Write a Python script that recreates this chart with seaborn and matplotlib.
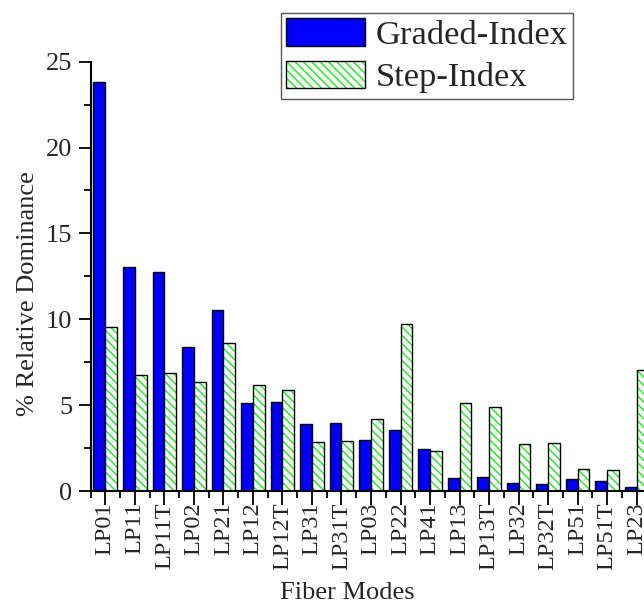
import numpy as np
import pandas as pd
import matplotlib
matplotlib.use("Agg")
import matplotlib.pyplot as plt
from matplotlib.patches import Patch
from matplotlib.ticker import MultipleLocator
from matplotlib.colors import to_rgba
import seaborn as sns

modes = ["LP01", "LP11", "LP11T", "LP02", "LP21", "LP12", "LP12T", "LP31", "LP31T",
         "LP03", "LP22", "LP41", "LP13", "LP13T", "LP32", "LP32T", "LP51", "LP51T", "LP23"]
graded = [23.8, 13.04, 12.75, 8.37, 10.56, 5.13, 5.21, 3.9, 3.97,
          2.97, 3.57, 2.42, 0.75, 0.82, 0.45, 0.41, 0.68, 0.58, 0.25]
step = [9.55, 6.78, 6.88, 6.32, 8.59, 6.2, 5.87, 2.87, 2.93,
        4.19, 9.71, 2.33, 5.14, 4.9, 2.75, 2.81, 1.3, 1.22, 7.03]
series = ["Graded-Index", "Step-Index"]

df = pd.DataFrame({
    "mode": modes * 2,
    "value": graded + step,
    "type": [series[0]] * len(modes) + [series[1]] * len(modes),
})

sns.set_style("ticks")
plt.rcParams["font.family"] = ["Liberation Serif", "DejaVu Serif"]
plt.rcParams["hatch.linewidth"] = 1.0

HATCH = "\\\\\\\\"

fig = plt.figure(figsize=(6.44, 6.09), dpi=100)
W, H = 644, 609
left_px, right_px, top_px, bottom_px = 90.5, 651.5, 61.7, 491.0
ax = fig.add_axes([left_px / W, 1 - bottom_px / H, (right_px - left_px) / W, (bottom_px - top_px) / H])

sns.barplot(data=df, x="mode", y="value", hue="type", order=modes, hue_order=series,
            palette=["#0000ff", "#ffffff"], width=0.8, dodge=True, saturation=1,
            edgecolor="black", linewidth=1.0, legend=False, ax=ax)

green = to_rgba("#00ff00")
for p in ax.containers[1]:
    p.set_facecolor("white")
    p.set_edgecolor("black")
    p.set_hatch(HATCH)
    p._hatch_color = green
for p in ax.containers[0]:
    p.set_facecolor("#0000ff")
    p.set_edgecolor("black")

ax.set_xlim(-0.5, 18.5)
ax.set_ylim(0, 25)
ax.yaxis.set_major_locator(MultipleLocator(5))
ax.yaxis.set_minor_locator(MultipleLocator(2.5))
ax.xaxis.set_minor_locator(MultipleLocator(1, offset=0.5))
ax.tick_params(axis="both", which="major", direction="out", width=1.3, color="black")
ax.tick_params(axis="y", which="major", length=9, labelsize=19, pad=4)
ax.tick_params(axis="x", which="major", length=10, labelsize=17.5, pad=-2, labelrotation=90)
ax.tick_params(axis="both", which="minor", direction="out", length=5, width=1.3, color="black")
for lab in ax.get_xticklabels():
    lab.set_verticalalignment("top")

for s in ["top", "right"]:
    ax.spines[s].set_visible(False)
for s in ["left", "bottom"]:
    ax.spines[s].set_linewidth(1.5)
    ax.spines[s].set_color("black")

ax.set_xlabel("Fiber Modes", fontsize=19)
ax.set_ylabel("% Relative Dominance", fontsize=19)
ax.xaxis.set_label_coords(0.458, -0.212)
ax.yaxis.set_label_coords(-0.092, 0.459)

h1 = Patch(facecolor="#0000ff", edgecolor="black", linewidth=1.0, label=series[0])
h2 = Patch(facecolor="white", edgecolor="black", linewidth=1.0, hatch=HATCH, label=series[1])
h2._hatch_color = green
leg = ax.legend(handles=[h1, h2], loc="upper left",
                bbox_to_anchor=(281 / W, 1 - 13 / H), bbox_transform=fig.transFigure,
                borderaxespad=0, fontsize=24.8, frameon=True, fancybox=False,
                framealpha=1, edgecolor="#555555", handlelength=2.3, handleheight=0.86,
                handletextpad=0.3, borderpad=0.15, labelspacing=0.28)
leg.get_frame().set_linewidth(1.0)

fig.savefig("out.png", dpi=100)
